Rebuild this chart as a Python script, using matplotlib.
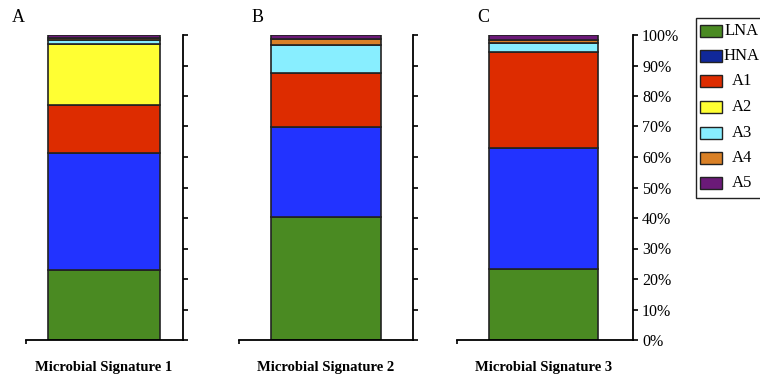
import matplotlib

matplotlib.use("Agg")
import matplotlib.pyplot as plt
from matplotlib.patches import Rectangle

plt.rcParams["font.family"] = ["Liberation Serif", "DejaVu Serif"]

components = ["LNA", "HNA", "A1", "A2", "A3", "A4", "A5"]
bar_colors = ["#4a8a22", "#2233ff", "#dd2c00", "#ffff33", "#88eeff", "#d98026", "#6b1a78"]
legend_colors = ["#4a8a22", "#10289a", "#dd2c00", "#ffff33", "#88eeff", "#d98026", "#6b1a78"]

panel_letters = ["A", "B", "C"]
signatures = ["Microbial Signature 1", "Microbial Signature 2", "Microbial Signature 3"]

# percent of each component, bottom to top
sig1 = [23.0, 38.3, 15.7, 20.2, 1.0, 0.8, 1.0]
sig2 = [40.3, 29.5, 17.7, 0.0, 9.2, 2.0, 1.3]
sig3 = [23.3, 39.7, 31.4, 0.0, 3.0, 1.0, 1.6]
values = [sig1, sig2, sig3]

yticks = list(range(0, 101, 10))
ytick_labels = [f"{t}%" for t in yticks]

W, H = 760, 375
fig = plt.figure(figsize=(W / 100, H / 100), dpi=100)

# pixel layout: axis left, axis right (= vertical line), bar left, bar right
panels = [(26, 183, 48, 160), (239, 413, 271, 381), (457, 633, 489, 598)]
y0, y1 = 340, 35

for i, (xl, xr, bl, br) in enumerate(panels):
    ax = fig.add_axes([xl / W, (H - y0) / H, (xr - xl) / W, (y0 - y1) / H])
    ax.set_xlim(0, 1)
    ax.set_ylim(0, 100)
    center = ((bl + br) / 2 - xl) / (xr - xl)
    width = (br - bl) / (xr - xl)
    bottom = 0
    for val, col in zip(values[i], bar_colors):
        if val > 0:
            ax.bar(center, val, width=width, bottom=bottom, color=col,
                   edgecolor="#222222", linewidth=1.2)
        bottom += val
    for s in ["left", "top"]:
        ax.spines[s].set_visible(False)
    for s in ["right", "bottom"]:
        ax.spines[s].set_linewidth(1.3)
    ax.yaxis.tick_right()
    ax.set_yticks(yticks)
    ax.tick_params(axis="y", direction="out", length=3.5, width=1.2, pad=3,
                   labelsize=11.5)
    if i == 2:
        ax.set_yticklabels(ytick_labels)
    else:
        ax.set_yticklabels([])
    ax.set_xticks([0])
    ax.set_xticklabels([])
    ax.tick_params(axis="x", direction="out", length=3, width=1.2)
    ax.text(center, -0.07, signatures[i], transform=ax.transAxes, ha="center",
            va="top", fontsize=10.5, fontweight="bold")

letter_pos = [(18, 18), (258, 17), (483, 17)]
for (lx, ly), letter in zip(letter_pos, panel_letters):
    fig.text(lx / W, 1 - ly / H, letter, ha="center", va="center", fontsize=13)

# legend box
fig.patches.append(Rectangle((696 / W, 1 - 198 / H), 80 / W, 180 / H,
                             transform=fig.transFigure, facecolor="white",
                             edgecolor="#222222", linewidth=1.0))
row_y = [31, 56, 81, 107, 133, 158, 183]
for ry, name, col in zip(row_y, components, legend_colors):
    fig.patches.append(Rectangle((700 / W, 1 - (ry + 6) / H), 22 / W, 12 / H,
                                 transform=fig.transFigure, facecolor=col,
                                 edgecolor="#222222", linewidth=1.0))
    fig.text(742 / W, 1 - ry / H, name, ha="center", va="center", fontsize=12)

fig.savefig("out.png", dpi=100)
